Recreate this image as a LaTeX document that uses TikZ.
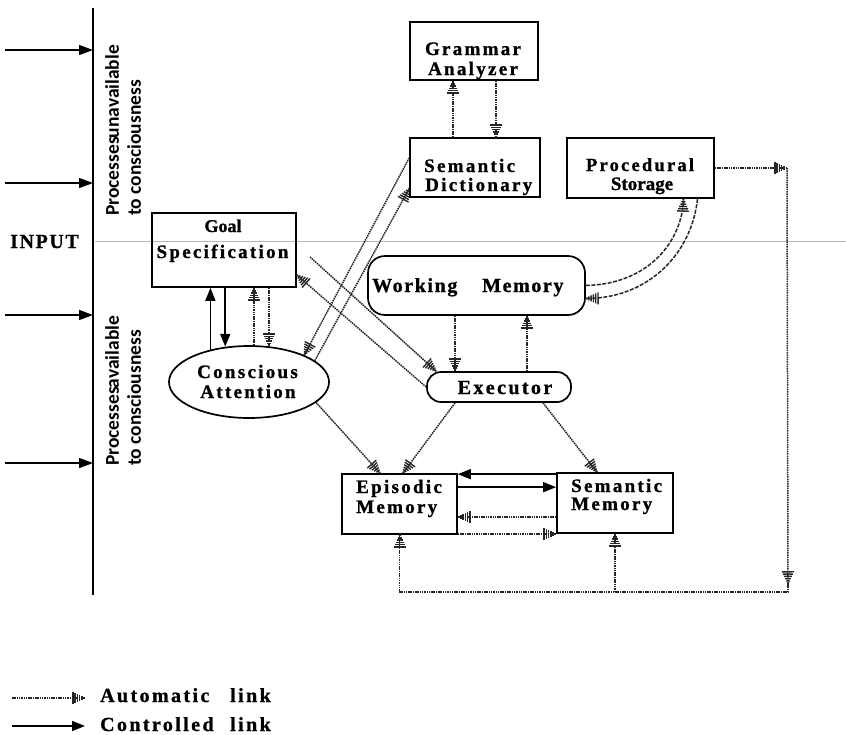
\documentclass[tikz,border=0pt]{standalone}
\usepackage{fontspec}
\setmainfont{Liberation Serif}
\newfontfamily\spacedfont{Liberation Serif Bold}[LetterSpace=12, FakeBold=1]
\newfontfamily\wmfont{Liberation Serif Bold}[LetterSpace=8, FakeBold=1]
\newfontfamily\heavyfont{Liberation Serif Bold}[FakeBold=1]
\newfontfamily\sidefont{Carlito}
\usetikzlibrary{arrows.meta,shapes.geometric}

\tikzset{
  hatch/.tip={Bar[width=12pt,line width=1.4pt,sep=0.9pt]Bar[width=10pt,line width=1.4pt,sep=0.9pt]Bar[width=8pt,line width=1.4pt,sep=0.9pt]Bar[width=6pt,line width=1.4pt,sep=0.9pt]Bar[width=4pt,line width=1.4pt,sep=0.9pt]Bar[width=2pt,line width=1.4pt,sep=0pt]},
  box/.style={draw, rectangle, line width=1.7pt, inner sep=0pt},
  autolink/.style={line width=1.5pt, black!85, dash pattern=on 1.5pt off 0.8pt, -{hatch}},
  autodash/.style={line width=1.5pt, black!85, dash pattern=on 4pt off 1.5pt, -{hatch}},
  ctrllink/.style={line width=1.6pt, -{Triangle[length=13pt,width=10pt]}},
  inlink/.style={line width=1.5pt, -{Triangle[length=14pt,width=10pt]}},
  boxtxt/.style={font=\spacedfont\fontsize{19}{23}\selectfont, inner sep=0pt},
  plaintxt/.style={font=\heavyfont\fontsize{19}{23}\selectfont, inner sep=0pt},
  bigtxt/.style={font=\wmfont\fontsize{20}{24}\selectfont, inner sep=0pt},
  sidetxt/.style={font=\sidefont\bfseries\fontsize{19.5}{22}\selectfont, inner sep=0pt, rotate=90, anchor=north west, align=left},
  legtxt/.style={font=\spacedfont\fontsize{20}{24}\selectfont, inner sep=0pt, anchor=base west},
}

\begin{document}
\begin{tikzpicture}[x=1pt,y=-1pt]
\useasboundingbox (0,0) rectangle (846,734);

% boundary between unconscious and conscious processing
\coordinate (g1) at (95,241);
\coordinate (g2) at (846,241);
\draw[gray!55, line width=0.9pt] (g1) -- (g2);

% input axis with incoming arrows
\coordinate (vtop) at (93,8);
\coordinate (vbot) at (93,595);
\draw[line width=1.6pt] (vtop) -- (vbot);
\foreach \yy/\nm in {50/in1,183/in2,315/in3,463/in4}{
  \coordinate (\nm) at (5,\yy);
  \draw[inlink] (\nm) -- (\nm -| vtop);
}
\node[font=\wmfont\fontsize{20}{24}\selectfont, inner sep=0pt, anchor=base west] (input) at (10,248) {INPUT};
\node[sidetxt] (unavail) at (105,216) {Processes\kern-1pt unavailable\\to consciousness};
\node[sidetxt] (avail) at (105,466) {Processes\kern-1pt available\\to consciousness};

% components
\node[box, minimum width=128pt, minimum height=58pt] (ga) at (474,51) {};
\node[box, minimum width=130pt, minimum height=59pt] (sd) at (475,167.5) {};
\node[box, minimum width=147pt, minimum height=60pt] (ps) at (640.5,168) {};
\node[box, minimum width=144pt, minimum height=74pt] (gs) at (224,250) {};
\node[box, rounded corners=17pt, minimum width=217pt, minimum height=59pt] (wm) at (476.5,285.5) {};
\node[draw, ellipse, line width=1.7pt, inner sep=0pt, minimum width=160pt, minimum height=72pt] (ca) at (249,382) {};
\node[box, rounded corners=14pt, minimum width=144pt, minimum height=30pt] (ex) at (499,387) {};
\node[box, minimum width=115pt, minimum height=60pt] (em) at (399.5,504) {};
\node[box, minimum width=116pt, minimum height=60pt] (sm) at (615,503) {};

% labels
\node[boxtxt, anchor=base] (ga1) at (473,55) {Grammar};
\node[boxtxt, anchor=base] (ga2) at (473,75) {Analyzer};
\node[boxtxt, anchor=base west] (sd1) at (424,172) {Semantic};
\node[boxtxt, anchor=base west] (sd2) at (425,191) {Dictionary};
\node[boxtxt, font=\spacedfont\fontsize{18.5}{22}\selectfont, anchor=base] (ps1) at (640,171) {Procedural};
\node[plaintxt, anchor=base] (ps2) at (642,190) {Storage};
\node[font=\heavyfont\fontsize{18}{22}\selectfont, inner sep=0pt, anchor=base] (gs1) at (223,232) {Goal};
\node[boxtxt, anchor=base] (gs2) at (222.5,258) {Specification};
\node[bigtxt, anchor=base west] (wm1) at (372,292) {Working};
\node[bigtxt, anchor=base west] (wm2) at (482,292) {Memory};
\node[boxtxt, anchor=base] (ca1) at (247.5,378) {Conscious};
\node[boxtxt, anchor=base] (ca2) at (248,398) {Attention};
\node[boxtxt, font=\spacedfont\fontsize{20}{24}\selectfont, anchor=base] (ex1) at (505,394) {Executor};
\node[boxtxt, anchor=base west] (em1) at (356,493) {Episodic};
\node[boxtxt, anchor=base west] (em2) at (356,513) {Memory};
\node[boxtxt, anchor=base west] (sm1) at (571,492) {Semantic};
\node[boxtxt, anchor=base west] (sm2) at (571,510) {Memory};

% grammar analyzer and semantic dictionary
\draw[autolink] ([xshift=-22pt]sd.north) -- ([xshift=-22pt]sd.north |- ga.south);
\draw[autolink] ([xshift=22pt]ga.south) -- ([xshift=22pt]ga.south |- sd.north);

% procedural storage feeding both long-term memories
\coordinate (c1) at (787,168);
\coordinate (c2) at (788,584);
\coordinate (c3) at (788,592);
\draw[autolink] (ps.east) -- (c1);
\draw[autolink] (c1) -- (c2);
\draw[autolink] (c2) -- (c3) -- (em.south |- c3) -- (em.south);
\draw[autolink] (sm.south |- c3) -- (sm.south);

% working memory and procedural storage
\draw[autodash] (wm.east) .. controls (650,284) and (682,240) .. ([xshift=43pt]ps.south);
\draw[autodash] ([xshift=57pt]ps.south) .. controls (692,252) and (650,298) .. ([yshift=-13pt]wm.east);

% goal specification and conscious attention
\draw[ctrllink] (ca.140) -- (ca.140 |- gs.south);
\draw[ctrllink] (gs.south -| ca.124) -- (ca.124);
\draw[autolink] (ca.82) -- (ca.82 |- gs.south);
\draw[autolink] (gs.south -| ca.61) -- (ca.61);

% conscious attention and semantic dictionary
\draw[autolink] ([yshift=9.5pt]sd.west) -- (ca.26);
\draw[autolink] (ca.18) -- ([yshift=-21pt]sd.west);

% goal specification and executor
\coordinate (gsout) at (310,257);
\draw[autolink] (gsout) -- ([xshift=10pt]ex.north west);
\draw[autolink] (ex.west) -- ([yshift=-25pt]gs.east);

% working memory and executor
\draw[autolink] ([xshift=-21.5pt]wm.south) -- ([xshift=-21.5pt]wm.south |- ex.north);
\draw[autolink] ([xshift=50.5pt]wm.south |- ex.north) -- ([xshift=50.5pt]wm.south);

% links down to the long-term memories
\draw[autolink] (ca.-17) -- ([xshift=-19.5pt]em.north);
\draw[autolink] ([xshift=-44pt]ex.south) -- ([xshift=3.5pt]em.north);
\draw[autolink] ([xshift=44pt]ex.south) -- ([xshift=-18pt]sm.north);

% episodic and semantic memory
\draw[ctrllink] ([yshift=-2pt]sm.north west) -- ([yshift=-2pt]sm.north west -| em.east);
\draw[ctrllink] ([yshift=-14pt]em.north east) -- ([yshift=-14pt]em.north east -| sm.west);
\draw[autolink] ([yshift=-45pt]sm.north west) -- ([yshift=-45pt]sm.north west -| em.east);
\draw[autolink] ([yshift=1pt]em.south east) -- ([yshift=1pt]em.south east -| sm.west);

% legend
\coordinate (la1) at (12,698);
\coordinate (la2) at (85,698);
\coordinate (lc1) at (12,726);
\coordinate (lc2) at (85,726);
\draw[autolink] (la1) -- (la2);
\draw[ctrllink] (lc1) -- (lc2);
\node[legtxt] (leg1) at (100,702) {Automatic};
\node[legtxt] (leg2) at (230,702) {link};
\node[legtxt] (leg3) at (100,731) {Controlled};
\node[legtxt] (leg4) at (230,731) {link};
\end{tikzpicture}
\end{document}
